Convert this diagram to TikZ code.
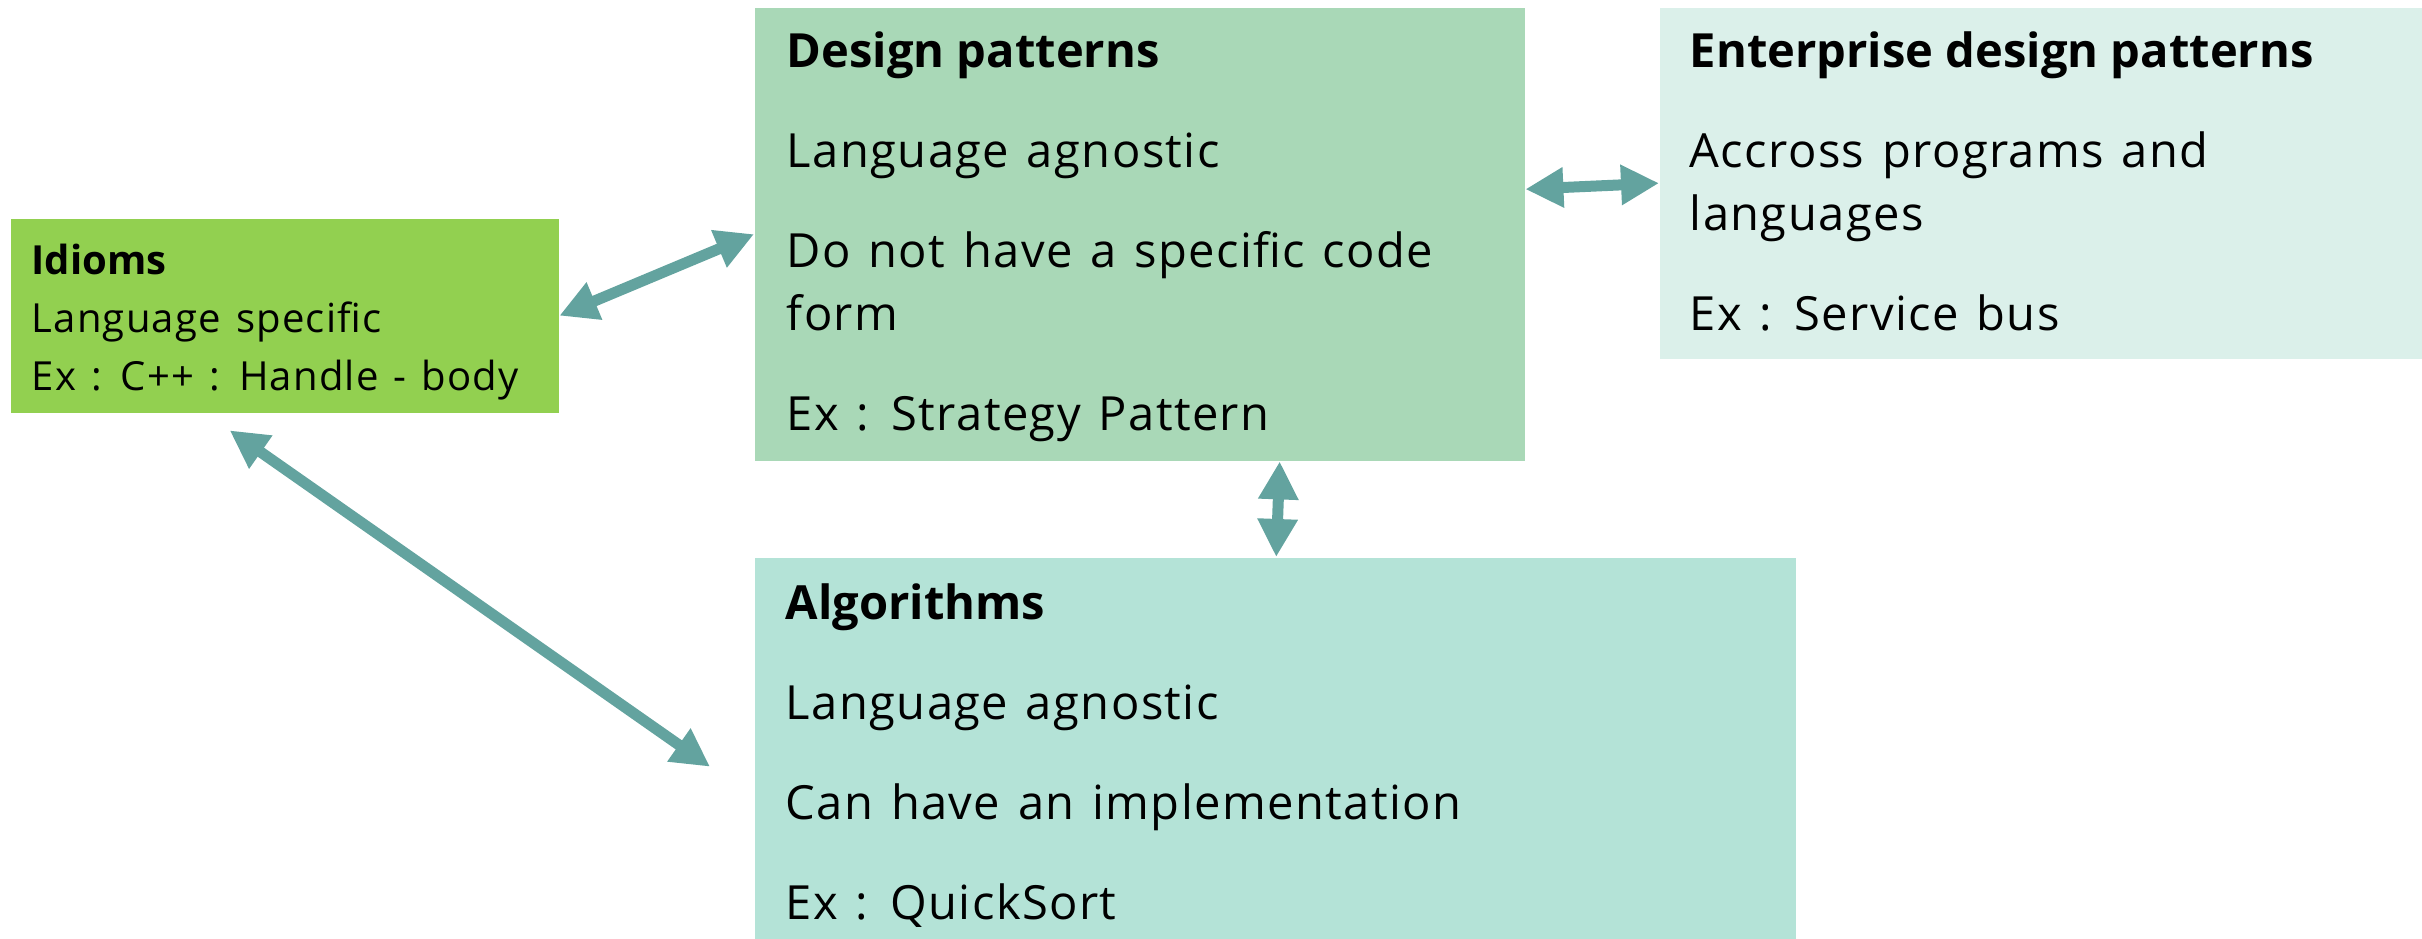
\documentclass[tikz,border=0pt]{standalone}
\usepackage{fontspec}
\setmainfont{Open Sans}
\newfontfamily\bodyfont{Open Sans}[LetterSpace=3.0,WordSpace=1.3]
\newcommand{\boxtitle}[1]{{\rmfamily\bfseries #1}}
\usetikzlibrary{arrows.meta}
\usetikzlibrary{positioning}
\definecolor{idiomgreen}{HTML}{92D050}
\definecolor{designgreen}{HTML}{A9D8B7}
\definecolor{enterprisegreen}{HTML}{DBF0EA}
\definecolor{algogreen}{HTML}{B4E3D7}
\definecolor{arrowteal}{HTML}{63A39F}

\begin{document}
\begin{tikzpicture}[
  box/.style={rectangle,anchor=north west,inner sep=0pt,draw=none},
  boxtext/.style={anchor=north west,inner sep=0pt,align=left,font=\bodyfont\fontsize{13.4}{17.9}\selectfont},
  smalltext/.style={anchor=north west,inner sep=0pt,align=left,font=\bodyfont\fontsize{11.4}{16.5}\selectfont},
  biarrow/.style={draw=arrowteal,line width=0.11cm,{Triangle[length=0.38cm,width=0.38cm]}-{Triangle[length=0.38cm,width=0.38cm]}}]
\useasboundingbox (0,0) rectangle (24.22,9.39);
\node (idioms) [box,fill=idiomgreen,minimum width=5.48cm,minimum height=1.94cm] at (0.10,7.21) {};
\node (design) [box,fill=designgreen,minimum width=7.70cm,minimum height=4.53cm] at (7.54,9.32) {};
\node (enterprise) [box,fill=enterprisegreen,minimum width=7.63cm,minimum height=3.51cm] at (16.59,9.32) {};
\node (algo) [box,fill=algogreen,minimum width=10.41cm,minimum height=3.82cm] at (7.54,3.82) {};
\node (idiomsText) [smalltext,below right=0.25cm and 0.21cm of idioms.north west] {\boxtitle{Idioms}\\Language specific\\Ex : C++ : Handle - body};
\node (designText) [boxtext,below right=0.24cm and 0.32cm of design.north west] {\boxtitle{Design patterns}\\[10.6pt]Language agnostic\\[10.6pt]Do not have a specific code\\form\\[10.6pt]Ex : Strategy Pattern};
\node (enterpriseText) [boxtext,below right=0.24cm and 0.30cm of enterprise.north west] {\boxtitle{Enterprise design patterns}\\[10.6pt]Accross programs and\\languages\\[10.6pt]Ex : Service bus};
\node (algoText) [boxtext,below right=0.26cm and 0.31cm of algo.north west] {\boxtitle{Algorithms}\\[10.6pt]Language agnostic\\[10.6pt]Can have an implementation\\[10.6pt]Ex : QuickSort};
\draw [biarrow] (idioms.east) -- (design.west);
\draw [biarrow] ([yshift=0.45cm]design.east) -- (enterprise.west);
\draw [biarrow] ([xshift=1.40cm]design.south) -- ([xshift=0.01cm]algo.north);
\draw [biarrow] ([xshift=-0.55cm,yshift=-0.17cm]idioms.south) -- ([xshift=-0.44cm,yshift=-0.18cm]algo.west);
\end{tikzpicture}
\end{document}
